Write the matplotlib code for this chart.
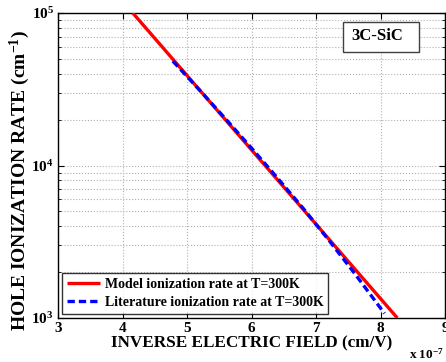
import matplotlib
matplotlib.use('Agg')
import matplotlib.pyplot as plt
from matplotlib.patches import Rectangle

# ___DATA___ #
# inverse electric field in units of 1e-7 cm/V
MODEL_INV_FIELD = [4.16, 8.26]
MODEL_RATE = [1.0e5, 1.0e3]
LIT_INV_FIELD = [4.78, 5.2, 5.6, 6.0, 6.4, 6.8, 7.2, 7.6, 8.06]
LIT_RATE = [48400, 31050, 20180, 13000, 8300, 5240, 3230, 1955, 1072]
X_TICKS = [3, 4, 5, 6, 7, 8, 9]

MODEL_LABEL = 'Model ionization rate at T=300K'
LIT_LABEL = 'Literature ionization rate at T=300K'

plt.rcParams['font.family'] = 'Liberation Serif'
plt.rcParams['font.weight'] = 'bold'
plt.rcParams['axes.labelweight'] = 'bold'
plt.rcParams['mathtext.fontset'] = 'custom'
plt.rcParams['mathtext.rm'] = 'Liberation Serif:bold'
plt.rcParams['mathtext.bf'] = 'Liberation Serif:bold'
plt.rcParams['mathtext.it'] = 'Liberation Serif:bold'
plt.rcParams['mathtext.default'] = 'rm'


def main():
    fig = plt.figure(figsize=(4.46, 3.62), dpi=100)
    ax = fig.add_axes([0.130, 0.1215, 0.868, 0.8425])

    ax.semilogy(MODEL_INV_FIELD, MODEL_RATE, color='#ff0000', lw=2.4,
                solid_capstyle='butt', label=MODEL_LABEL, zorder=3)
    ax.semilogy(LIT_INV_FIELD, LIT_RATE, color='#0000ff', lw=2.4,
                ls=(0, (2.2, 1.2)), label=LIT_LABEL, zorder=4)

    ax.set_xlim(3, 9)
    ax.set_ylim(1e3, 1e5)
    ax.set_xticks(X_TICKS)
    ax.set_xticklabels([str(t) for t in X_TICKS])

    ax.grid(True, which='major', ls=':', color='#b0b0b0', lw=0.8)
    ax.grid(True, which='minor', axis='y', ls=':', color='#b0b0b0', lw=0.8)
    ax.tick_params(which='both', direction='in', top=True, right=True,
                   labelsize=11, pad=3)
    ax.tick_params(which='major', length=4)
    ax.tick_params(which='minor', length=2)
    for lbl in ax.get_xticklabels() + ax.get_yticklabels():
        lbl.set_fontweight('bold')
    for s in ax.spines.values():
        s.set_linewidth(1.0)

    ax.set_xlabel('INVERSE ELECTRIC FIELD (cm/V)', fontsize=12.3, labelpad=0)
    ax.set_ylabel('HOLE IONIZATION RATE (cm$^{-1}$)', fontsize=14)
    ax.yaxis.set_label_coords(-0.066, 0.45)

    # MATLAB style exponent label
    ax.text(0.906, -0.12, 'x 10$^{-7}$', transform=ax.transAxes,
            fontsize=9.5, ha='left', va='center')

    # annotation box for the material
    ax.add_patch(Rectangle((0.736, 0.872), 0.197, 0.098,
                           transform=ax.transAxes, fc='white', ec='#404040',
                           lw=1.0, zorder=5))
    ax.text(0.757, 0.925, '3C-SiC', transform=ax.transAxes, fontsize=12,
            ha='left', va='center', zorder=6)

    leg = ax.legend(loc='lower left', fontsize=10, frameon=True,
                    fancybox=False, edgecolor='black', handlelength=2.4,
                    borderpad=0.35, labelspacing=0.35, handletextpad=0.3,
                    borderaxespad=0.3)
    leg.get_frame().set_linewidth(1.0)

    fig.savefig('out.png', dpi=100)


if __name__ == '__main__':
    main()
